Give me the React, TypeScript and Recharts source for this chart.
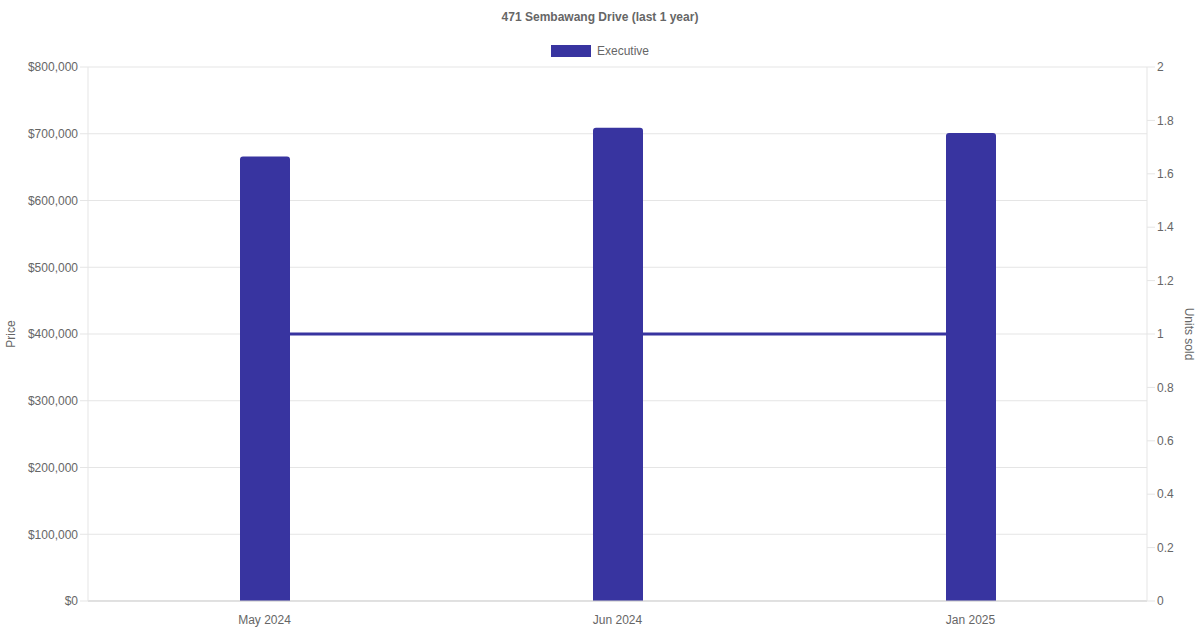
import { ComposedChart, Bar, Line, XAxis, YAxis, CartesianGrid, Legend } from 'recharts';

const months = ['May 2024', 'Jun 2024', 'Jan 2025'];
const prices = [666000, 709000, 701000];
const unitsSold = [1, 1, 1];
const priceTicks = [0, 100000, 200000, 300000, 400000, 500000, 600000, 700000, 800000];
const unitTicks = [0, 0.2, 0.4, 0.6, 0.8, 1, 1.2, 1.4, 1.6, 1.8, 2];

const COLOR = '#3834a0';
const FONT = '"Liberation Sans", Arial, Helvetica, sans-serif';

const data = months.map((m, i) => ({ month: m, price: prices[i], units: unitsSold[i] }));

const fmtPrice = (v: number) => '$' + v.toLocaleString('en-US');

const LegendBox = () => (
  <div style={{ display: 'flex', justifyContent: 'center', alignItems: 'center', fontFamily: FONT, fontSize: 12, color: '#666' }}>
    <span style={{ display: 'inline-block', width: 40, height: 12, background: COLOR, marginRight: 6 }} />
    <span>Executive</span>
  </div>
);

const App = () => {
  const tick = { fill: '#666', fontSize: 12, fontFamily: FONT };
  return (
    <div style={{ position: 'absolute', top: 0, left: 0, width: 1200, height: 630, background: '#fff' }}>
      <div
        style={{
          position: 'absolute',
          top: 10,
          left: 0,
          width: 1200,
          textAlign: 'center',
          fontFamily: FONT,
          fontSize: 12,
          fontWeight: 'bold',
          color: '#666',
        }}
      >
        471 Sembawang Drive (last 1 year)
      </div>
      <ComposedChart width={1200} height={630} data={data} margin={{ top: 53, right: 0, bottom: 0, left: 0 }}>
        <CartesianGrid vertical={false} stroke="#e5e5e5" yAxisId="price" />
        <XAxis
          dataKey="month"
          height={29}
          tickLine={false}
          axisLine={{ stroke: '#cfcfcf' }}
          tick={tick}
          tickMargin={8}
        />
        <YAxis
          yAxisId="price"
          orientation="left"
          width={88}
          domain={[0, 800000]}
          ticks={priceTicks}
          tickFormatter={fmtPrice}
          tick={tick}
          tickSize={8}
          tickLine={{ stroke: '#e5e5e5' }}
          axisLine={{ stroke: '#e5e5e5' }}
          label={{
            content: ({ viewBox }: any) => {
              const x = viewBox.x + 11;
              const y = viewBox.y + viewBox.height / 2;
              return (
                <text x={x} y={y} transform={`rotate(-90 ${x} ${y})`} textAnchor="middle" dominantBaseline="central" fill="#666" fontSize={12} fontFamily={FONT}>
                  Price
                </text>
              );
            },
          }}
        />
        <YAxis
          yAxisId="units"
          orientation="right"
          width={53}
          domain={[0, 2]}
          ticks={unitTicks}
          tickFormatter={(v: number) => String(v)}
          tick={tick}
          tickSize={8}
          tickLine={{ stroke: '#e5e5e5' }}
          axisLine={{ stroke: '#e5e5e5' }}
          label={{
            content: ({ viewBox }: any) => {
              const x = viewBox.x + 42;
              const y = viewBox.y + viewBox.height / 2;
              return (
                <text x={x} y={y} transform={`rotate(90 ${x} ${y})`} textAnchor="middle" dominantBaseline="central" fill="#666" fontSize={12} fontFamily={FONT}>
                  Units sold
                </text>
              );
            },
          }}
        />
        <Legend verticalAlign="top" content={LegendBox} wrapperStyle={{ top: 44, left: 0, width: 1200 }} />
        <Line
          yAxisId="units"
          dataKey="units"
          type="linear"
          stroke={COLOR}
          strokeWidth={3}
          dot={false}
          activeDot={false}
          isAnimationActive={false}
        />
        <Bar yAxisId="price" dataKey="price" fill={COLOR} barSize={50} radius={[3, 3, 0, 0]} isAnimationActive={false} />
      </ComposedChart>
    </div>
  );
};

export default App;
